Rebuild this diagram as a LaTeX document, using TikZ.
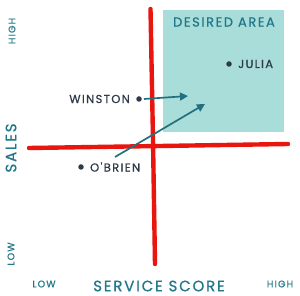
\documentclass[tikz,border=0pt]{standalone}
\usepackage{fontspec}
\setmainfont{Poppins}
\newfontfamily\sketchfont{Poppins}[LetterSpace=12, FakeBold=0.7]
\usepackage{tikz}
\usepackage{xcolor}
\usetikzlibrary{positioning, arrows.meta, calc}
\definecolor{cAxis}   {HTML}{E8160F}
\definecolor{cArea}   {HTML}{A9DDD9}
\definecolor{cLabel}  {HTML}{22788A}
\definecolor{cName}   {HTML}{2E3A48}
\definecolor{cArrow}  {HTML}{23707F}

\tikzset{
  axisline/.style={cAxis, line width=4.4pt, line cap=round},
  namelabel/.style={font=\sketchfont\fontsize{11.5}{12}\selectfont, text=cName, inner sep=1pt},
  scalelabel/.style={font=\sketchfont\fontsize{9.5}{10}\selectfont, text=cLabel, inner sep=0pt},
  titlelabel/.style={font=\sketchfont\fontsize{15}{16}\selectfont, text=cLabel, inner sep=0pt},
  person/.style={circle, fill=cName, minimum size=5.5pt, inner sep=0pt},
  move/.style={cArrow, line width=1.7pt, -{Triangle[length=8pt, width=8pt]}},
}

\begin{document}
\begin{tikzpicture}[x=1pt, y=-1pt]
  \useasboundingbox[fill=white] (0, 0) rectangle (300, 296);
  % desired quadrant
  \fill[cArea] (163, 10) rectangle (284, 132);
  \node[font=\sketchfont\fontsize{13}{14}\selectfont, text=cLabel] (desired) at (224, 22) {DESIRED AREA};
  % axes (crayon strokes)
  \draw[axisline] (150.5, 9) -- (153, 140) -- (155, 264);
  \draw[axisline] (29, 148) -- (160, 146) -- (288, 144);
  % people
  \node[person] (julia) at (229, 64) {};
  \node[namelabel, right=5pt of julia] {JULIA};
  \node[person] (winston) at (139, 99) {};
  \node[namelabel, left=5pt of winston] {WINSTON};
  \node[person] (obrien) at (81, 167) {};
  \node[namelabel, right=5pt of obrien] {O'BRIEN};
  % moves towards the desired area
  \coordinate (winstonTo) at (188, 96);
  \coordinate (obrienFrom) at (115, 157);
  \coordinate (obrienTo) at (205, 104);
  \draw[move] ($(winston)+(5,0)$) -- (winstonTo);
  \draw[move] (obrienFrom) -- (obrienTo);
  % axis labels
  \node[scalelabel, rotate=90] (salesHigh) at (12, 31) {HIGH};
  \node[titlelabel, rotate=90] (sales) at (11, 148) {SALES};
  \node[scalelabel, rotate=90] (salesLow) at (11, 254) {LOW};
  \node[scalelabel] (scoreLow) at (44, 284) {LOW};
  \node[titlelabel] (score) at (159, 286) {SERVICE SCORE};
  \node[scalelabel] (scoreHigh) at (280, 284) {HIGH};
\end{tikzpicture}
\end{document}
